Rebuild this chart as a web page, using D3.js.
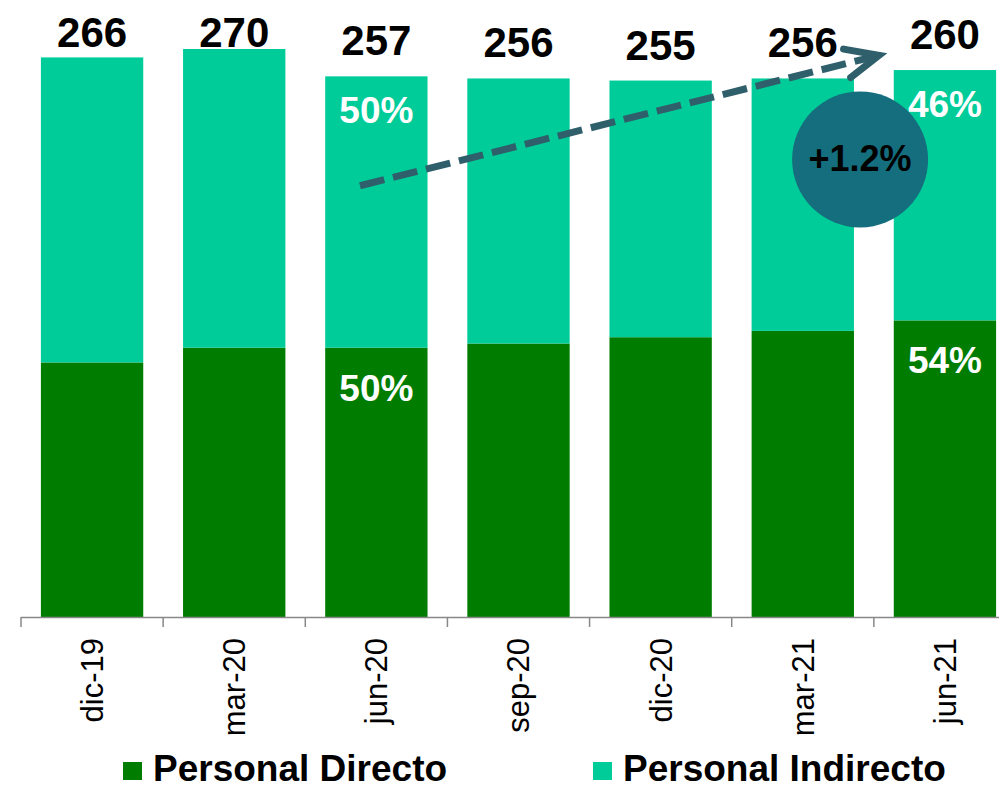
<!DOCTYPE html>
<html>
<head>
<meta charset="utf-8">
<script src="https://cdn.jsdelivr.net/npm/d3@7"></script>
<style>
  html, body { margin: 0; padding: 0; background: #fff; }
  svg { display: block; font-family: "Liberation Sans", Arial, Helvetica, sans-serif; }
</style>
</head>
<body>
<svg id="chart" width="999" height="790"></svg>
<script>
// ---- data ----
const categories = ["dic-19", "mar-20", "jun-20", "sep-20", "dic-20", "mar-21", "jun-21"];
const directo    = [121, 128, 128, 130, 133, 136, 141];
const indirecto  = [145, 142, 129, 126, 122, 120, 119];
const totals     = [266, 270, 257, 256, 255, 256, 260];
const pctDirecto   = [null, null, "50%", null, null, null, "54%"];
const pctIndirecto = [null, null, "50%", null, null, null, "46%"];
const seriesNames = ["Personal Directo", "Personal Indirecto"];
const growthLabel = "+1.2%";
const yMax = 270;

// ---- styles ----
const colDirecto = "#007d00";
const colIndirecto = "#00cc99";
const colArrow = "#2f5f6b";
const colCircle = "#146e7e";

const svg = d3.select("#chart");

const x = d3.scaleBand().domain(categories).range([21, 1016]).paddingInner(0.28).paddingOuter(0.14);
const y = d3.scaleLinear().domain([0, yMax]).range([617, 49]);
const bw = x.bandwidth();
const step = x.step();

const rows = categories.map((c, i) => ({ cat: c, directo: directo[i], indirecto: indirecto[i], total: totals[i], pD: pctDirecto[i], pI: pctIndirecto[i] }));
const stack = d3.stack().keys(["directo", "indirecto"])(rows);
const colors = [colDirecto, colIndirecto];

// bars
svg.append("g").selectAll("g").data(stack).join("g")
  .attr("fill", (d, i) => colors[i])
  .selectAll("rect").data(d => d).join("rect")
  .attr("x", d => x(d.data.cat))
  .attr("width", bw)
  .attr("y", d => y(d[1]))
  .attr("height", d => y(d[0]) - y(d[1]));

// axis line + boundary ticks
const axisG = svg.append("g");
axisG.append("line")
  .attr("x1", x.range()[0]).attr("x2", x.range()[1])
  .attr("y1", y(0) + 0.5).attr("y2", y(0) + 0.5)
  .attr("stroke", "#888").attr("stroke-width", 1.5);
const boundaries = categories.map((c, i) => i === 0 ? x.range()[0] : x(c) - step * x.paddingInner() / 2);
boundaries.push(x.range()[1]);
axisG.selectAll("line.tick").data(boundaries).join("line")
  .attr("class", "tick")
  .attr("x1", d => d).attr("x2", d => d)
  .attr("y1", y(0)).attr("y2", y(0) + 10)
  .attr("stroke", "#888").attr("stroke-width", 1.5);

// category labels (rotated)
axisG.selectAll("text").data(categories).join("text")
  .attr("transform", c => `translate(${x(c) + bw / 2},${y(0) + 21}) rotate(-90)`)
  .attr("text-anchor", "end")
  .attr("dy", "0.35em")
  .attr("font-size", 31)
  .attr("fill", "#000")
  .text(c => c);

// totals labels
svg.append("g").selectAll("text").data(rows).join("text")
  .attr("x", d => x(d.cat) + bw / 2)
  .attr("y", d => Math.max(47, y(d.total) - 21))
  .attr("text-anchor", "middle")
  .attr("font-size", 42)
  .attr("font-weight", "bold")
  .attr("fill", "#000")
  .text(d => d.total);

// percentage labels
const pctG = svg.append("g").attr("font-size", 37).attr("font-weight", "bold").attr("fill", "#fff").attr("text-anchor", "middle");
pctG.selectAll("text.pi").data(rows.filter(d => d.pI)).join("text")
  .attr("class", "pi")
  .attr("x", d => x(d.cat) + bw / 2)
  .attr("y", d => y(d.total) + 47)
  .text(d => d.pI);
pctG.selectAll("text.pd").data(rows.filter(d => d.pD)).join("text")
  .attr("class", "pd")
  .attr("x", d => x(d.cat) + bw / 2)
  .attr("y", d => y(d.directo) + 53)
  .text(d => d.pD);

// growth arrow (anchored to scales)
const ax0 = x("jun-20") + bw * 0.34, ay0 = y(205);
const ax1 = x("jun-21") - bw * 0.144, ay1 = y(267);
const ang = Math.atan2(ay0 - ay1, ax0 - ax1); // back direction from tip
const arrowG = svg.append("g").attr("stroke", colArrow).attr("stroke-width", 7).attr("fill", "none");
arrowG.append("line")
  .attr("x1", ax0).attr("y1", ay0)
  .attr("x2", ax1 + Math.cos(ang) * 6).attr("y2", ay1 + Math.sin(ang) * 6)
  .attr("stroke-dasharray", "25,9");
const armLen = 36, armA = 24 * Math.PI / 180;
arrowG.append("path")
  .attr("stroke-linecap", "round")
  .attr("stroke-linejoin", "miter")
  .attr("d", `M${ax1 + Math.cos(ang + armA) * armLen},${ay1 + Math.sin(ang + armA) * armLen} L${ax1},${ay1} L${ax1 + Math.cos(ang - armA) * armLen},${ay1 + Math.sin(ang - armA) * armLen}`);

// growth circle
const cx = x("mar-21") + bw * 1.06, cy = y(217.5);
svg.append("circle").attr("cx", cx).attr("cy", cy).attr("r", 68).attr("fill", colCircle);
svg.append("text").attr("x", cx).attr("y", cy + 12)
  .attr("text-anchor", "middle").attr("font-size", 36).attr("font-weight", "bold").attr("fill", "#000")
  .text(growthLabel);

// legend
const legendX = [123, 593];
const leg = svg.append("g").selectAll("g").data(seriesNames).join("g")
  .attr("transform", (d, i) => `translate(${legendX[i]},762)`);
leg.append("rect").attr("width", 19).attr("height", 18).attr("fill", (d, i) => colors[i]);
leg.append("text").attr("x", 30).attr("y", 19)
  .attr("font-size", 37).attr("font-weight", "bold").attr("fill", "#000")
  .text(d => d);
</script>
</body>
</html>
